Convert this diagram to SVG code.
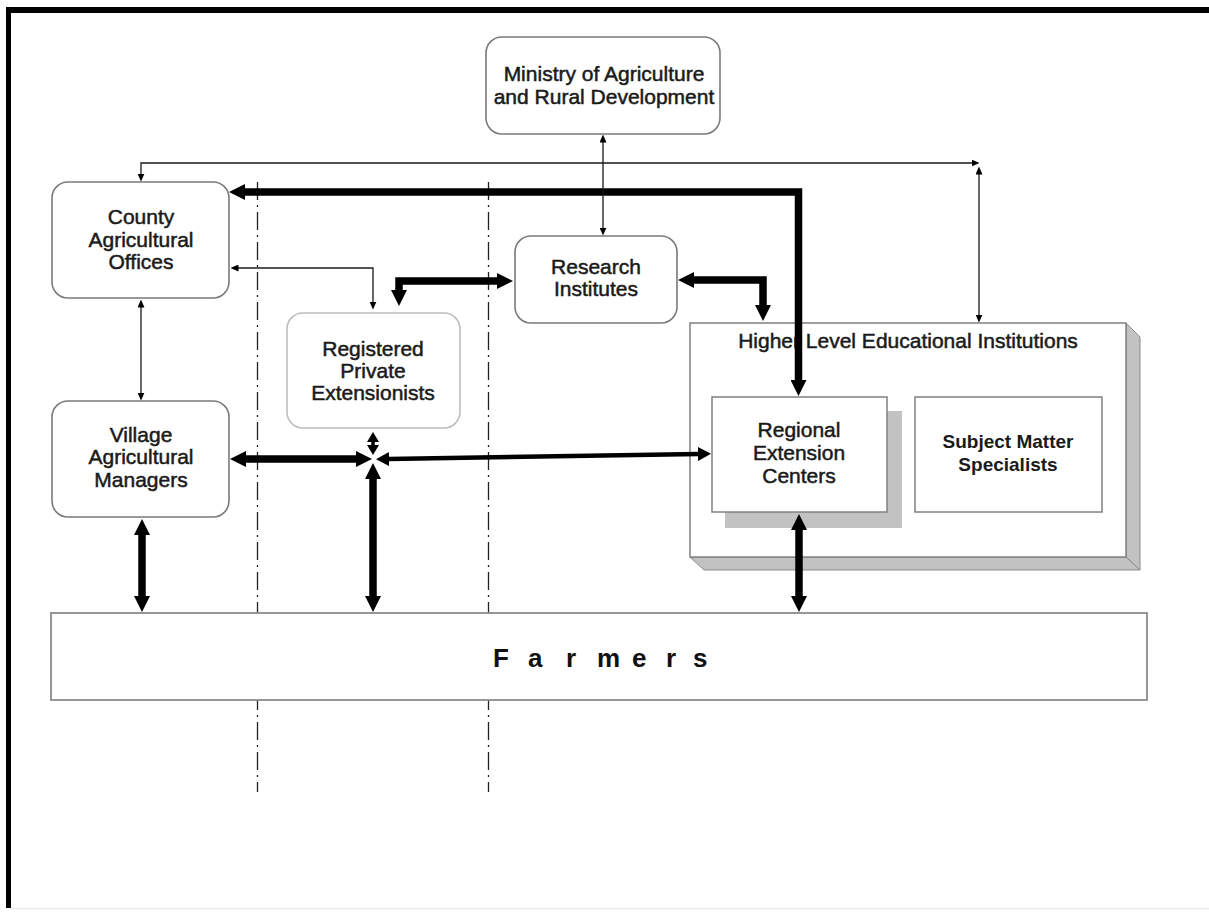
<svg xmlns="http://www.w3.org/2000/svg" width="1209" height="912" viewBox="0 0 1209 912">
<style>
  .box{fill:#fff;stroke:#7a7a7a;stroke-width:1.6}
  .lbox{fill:#fff;stroke:#bdbdbd;stroke-width:1.6}
  .sq{fill:#fff;stroke:#808080;stroke-width:1.5}
  .shade{fill:#c2c2c2;stroke:#8a8a8a;stroke-width:1}
  .t{font-family:"Liberation Sans",Arial,sans-serif;font-size:21px;fill:#1a1a1a;stroke:#1a1a1a;stroke-width:0.5;text-anchor:middle}
  .tb{font-family:"Liberation Sans",Arial,sans-serif;font-size:19px;font-weight:bold;fill:#1a1a1a;text-anchor:middle}
  .far{font-family:"Liberation Sans",Arial,sans-serif;font-size:26px;font-weight:bold;fill:#111}
  .thick{fill:none;stroke:#000;stroke-width:7.5;stroke-linejoin:miter;marker-start:url(#hT);marker-end:url(#hT)}
  .med{fill:none;stroke:#000;stroke-width:4.5;marker-start:url(#hM);marker-end:url(#hM)}
  .sm{fill:none;stroke:#000;stroke-width:3.5;marker-start:url(#hS);marker-end:url(#hS)}
  .thin{fill:none;stroke:#1a1a1a;stroke-width:1.3;marker-start:url(#hN);marker-end:url(#hN)}
  .dd{fill:none;stroke:#222;stroke-width:1.3;stroke-dasharray:18 5 2 5}
</style>
<defs>
  <marker id="hT" markerUnits="userSpaceOnUse" viewBox="0 -8 16 16" markerWidth="16" markerHeight="16" refX="1" refY="0" orient="auto-start-reverse"><path d="M0,-8 L16,0 L0,8 z" fill="#000"/></marker>
  <marker id="hM" markerUnits="userSpaceOnUse" viewBox="0 -7 13 14" markerWidth="13" markerHeight="14" refX="1" refY="0" orient="auto-start-reverse"><path d="M0,-7 L13,0 L0,7 z" fill="#000"/></marker>
  <marker id="hS" markerUnits="userSpaceOnUse" viewBox="0 -6 10 12" markerWidth="10" markerHeight="12" refX="1" refY="0" orient="auto-start-reverse"><path d="M0,-6 L10,0 L0,6 z" fill="#000"/></marker>
  <marker id="hN" markerUnits="userSpaceOnUse" viewBox="0 -3.5 8 7" markerWidth="8" markerHeight="7" refX="0.5" refY="0" orient="auto-start-reverse"><path d="M0,-3.5 L8,0 L0,3.5 z" fill="#000"/></marker>
</defs>

<rect x="0" y="0" width="1209" height="912" fill="#fff"/>
<!-- frame -->
<rect x="6" y="7" width="1203" height="6" fill="#000"/>
<rect x="6" y="7" width="5" height="901" fill="#000"/>
<line x1="11" y1="908.5" x2="1209" y2="908.5" stroke="#f0f0ee" stroke-width="2"/>

<!-- dash-dot separators -->
<g id="separators">
  <line class="dd" x1="257.5" y1="182" x2="257.5" y2="792"/>
  <line class="dd" x1="488.5" y1="182" x2="488.5" y2="792"/>
</g>

<g id="ministry">
  <rect class="box" x="486" y="37" width="234" height="97" rx="16"/>
  <text class="t" x="604" y="81">Ministry of Agriculture</text>
  <text class="t" x="604" y="104">and Rural Development</text>
</g>

<g id="county">
  <rect class="box" x="52" y="182" width="177" height="116" rx="16"/>
  <text class="t" x="141" y="224">County</text>
  <text class="t" x="141" y="247">Agricultural</text>
  <text class="t" x="141" y="269">Offices</text>
</g>

<g id="research">
  <rect class="box" x="515" y="236" width="162" height="87" rx="16"/>
  <text class="t" x="596" y="274">Research</text>
  <text class="t" x="596" y="296">Institutes</text>
</g>

<g id="registered">
  <rect class="lbox" x="287" y="313" width="173" height="115" rx="16"/>
  <text class="t" x="373" y="356">Registered</text>
  <text class="t" x="373" y="378">Private</text>
  <text class="t" x="373" y="400">Extensionists</text>
</g>

<g id="village">
  <rect class="box" x="52" y="401" width="177" height="116" rx="16"/>
  <text class="t" x="141" y="442">Village</text>
  <text class="t" x="141" y="464">Agricultural</text>
  <text class="t" x="141" y="487">Managers</text>
</g>

<g id="hlei">
  <polygon class="shade" points="1126,323 1140,337 1140,570 1126,557"/>
  <polygon class="shade" points="690,557 1126,557 1140,570 704,570"/>
  <rect class="sq" x="690" y="323" width="436" height="234"/>
  <text class="t" x="908" y="348">Higher Level Educational Institutions</text>
</g>

<g id="regional">
  <rect x="725" y="411" width="177" height="117" fill="#c2c2c2"/>
  <rect class="sq" x="712" y="397" width="175" height="115"/>
  <text class="t" x="799" y="437">Regional</text>
  <text class="t" x="799" y="460">Extension</text>
  <text class="t" x="799" y="483">Centers</text>
</g>

<g id="subject">
  <rect class="sq" x="915" y="397" width="187" height="115"/>
  <text class="tb" x="1008" y="448">Subject Matter</text>
  <text class="tb" x="1008" y="471">Specialists</text>
</g>

<g id="farmers">
  <rect x="51" y="613" width="1096" height="87" fill="#fff" stroke="#8c8c8c" stroke-width="1.8"/>
  <text class="far" x="493 528 566 597 632 666 693" y="667">Farmers</text>
</g>

<g id="connectors">
  <!-- thick -->
  <path class="thick" d="M244,192 H798.5 V381"/>
  <path class="thick" d="M498,281 H399 V291"/>
  <path class="thick" d="M693,280 H763 V306"/>
  <path class="thick" d="M245,459 H357"/>
  <path class="thick" d="M373,478 V597"/>
  <path class="thick" d="M142,534 V597"/>
  <path class="thick" d="M799,529 V597"/>
  <!-- medium -->
  <path class="med" d="M388,459 L699,454"/>
  <path class="sm" d="M373,441 V446"/>
  <!-- thin -->
  <path class="thin" d="M141,174 V163 H972"/>
  <path class="thin" d="M979,174 V315"/>
  <path class="thin" d="M603,142 V228"/>
  <path class="thin" d="M238,268 H373 V302"/>
  <path class="thin" d="M141,307 V393"/>
</g>
</svg>
